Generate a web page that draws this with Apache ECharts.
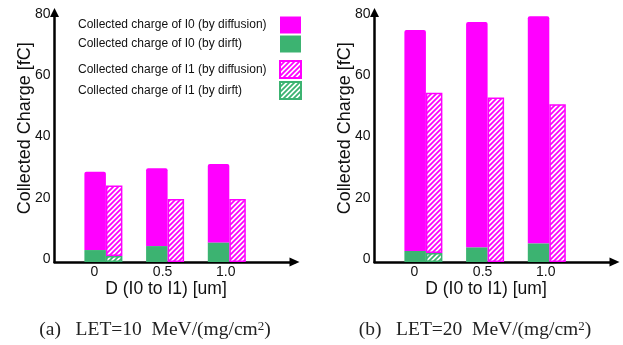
<!DOCTYPE html>
<html>
<head>
<meta charset="utf-8">
<script src="https://cdn.jsdelivr.net/npm/echarts@6/dist/echarts.min.js"></script>
<style>html,body{margin:0;padding:0;background:#fff}#c{width:623px;height:345px}</style>
</head>
<body>
<div id="c"></div>
<script>
// ---- data ----
const categories = ['0', '0.5', '1.0'];
const yTicks = [0, 20, 40, 60, 80];
const seriesNames = [
  'Collected charge of I0 (by diffusion)',
  'Collected charge of I0 (by dirft)',
  'Collected charge of I1 (by diffusion)',
  'Collected charge of I1 (by dirft)'
];
// (a) LET=10
const a_I0_drift = [3.9, 5.2, 6.4];
const a_I0_diff  = [25.6, 25.4, 25.6];
const a_I1_drift = [2.0, 0, 0];
const a_I1_diff  = [23.0, 20.6, 20.6];
// (b) LET=20
const b_I0_drift = [3.6, 4.8, 6.1];
const b_I0_diff  = [72.2, 73.6, 74.2];
const b_I1_drift = [2.9, 0, 0];
const b_I1_diff  = [52.4, 53.7, 51.5];
const captions = ['(a)', '(b)'];
const captionLET = ['10', '20'];

const MAG = '#ff00ff', GRN = '#3cb371';
const SANS = 'Liberation Sans', SERIF = 'Liberation Serif';
const TXT = '#111';

function hatch(color) {
  const s = 5;
  const c = document.createElement('canvas');
  c.width = s; c.height = s;
  const g = c.getContext('2d');
  g.fillStyle = '#fff'; g.fillRect(0, 0, s, s);
  g.strokeStyle = color; g.lineWidth = 1.8;
  g.beginPath();
  g.moveTo(0, s); g.lineTo(s, 0);
  g.moveTo(-2, 2); g.lineTo(2, -2);
  g.moveTo(s - 2, s + 2); g.lineTo(s + 2, s - 2);
  g.stroke();
  return { image: c, repeat: 'repeat' };
}
const vals = arr => arr.map(v => (v === 0 ? null : v));

const panels = [
  { left: 54.5, I0d: a_I0_drift, I0f: a_I0_diff, I1d: a_I1_drift, I1f: a_I1_diff },
  { left: 374.5, I0d: b_I0_drift, I0f: b_I0_diff, I1d: b_I1_drift, I1f: b_I1_diff }
];
const gridTop = 12.5, gridBottomY = 262, axisW = 240, bandW = 61.7, firstCenter = 48.9;
const yMax = 81.5;

const grids = [], xAxes = [], yAxes = [], series = [], titles = [];
const shiftRich = {
  s0: { padding: [0, 18, 0, 0], fontFamily: SANS, fontSize: 14, color: TXT },
  s1: { padding: [0, 5, 0, 0], fontFamily: SANS, fontSize: 14, color: TXT },
  s2: { padding: [0, 2, 0, 0], fontFamily: SANS, fontSize: 14, color: TXT }
};
const axisLineStyle = { color: '#000', width: 2.5 };
panels.forEach((p, k) => {
  const A = k * 2, B = k * 2 + 1;
  grids.push({ left: p.left, top: gridTop, width: axisW, height: gridBottomY - gridTop });
  grids.push({ left: p.left + firstCenter - bandW / 2, top: gridTop, width: bandW * categories.length, height: gridBottomY - gridTop });

  xAxes.push({
    gridIndex: A, type: 'value', min: 0, max: 1,
    axisLine: { onZero: false, lineStyle: axisLineStyle, symbol: ['none', 'triangle'], symbolSize: [9, 10] },
    axisTick: { show: false }, splitLine: { show: false }, axisLabel: { show: false },
    name: 'D (I0 to I1) [um]', nameLocation: 'middle', nameGap: 18,
    nameTextStyle: { fontFamily: SANS, fontSize: 17.5, color: TXT, padding: [0, 17, 0, 0] }
  });
  xAxes.push({
    gridIndex: B, type: 'category', data: categories, boundaryGap: true,
    axisLine: { show: false }, axisTick: { show: false }, splitLine: { show: false },
    axisLabel: {
      margin: 3, fontFamily: SANS, fontSize: 14, color: TXT,
      formatter: (v, i) => '{s' + i + '|' + v + '}', rich: shiftRich
    }
  });
  yAxes.push({
    gridIndex: A, type: 'value', min: 0, max: yMax,
    axisLine: { show: true, onZero: false, lineStyle: axisLineStyle, symbol: ['none', 'triangle'], symbolSize: [9, 9] },
    axisTick: { show: false }, splitLine: { show: false },
    axisLabel: {
      customValues: yTicks, margin: 4, fontFamily: SANS, fontSize: 14, color: TXT,
      formatter: '{v|{value}}',
      rich: { v: { padding: [0, 0, 6, 0], fontFamily: SANS, fontSize: 14, color: TXT } }
    },
    name: 'Collected Charge [fC]', nameLocation: 'middle', nameGap: 20, nameMoveOverlap: false,
    nameTextStyle: { fontFamily: SANS, fontSize: 18, color: TXT, padding: [0, 0, 0, 18] }
  });
  yAxes.push({ gridIndex: B, type: 'value', min: 0, max: yMax, show: false });

  const common = { type: 'bar', xAxisIndex: B, yAxisIndex: B, barGap: '0%' };
  const s0 = 'I0_' + k, s1 = 'I1_' + k;
  series.push(Object.assign({}, common, { name: seriesNames[1], stack: s0, barWidth: 21.5, data: vals(p.I0d), itemStyle: { color: GRN } }));
  series.push(Object.assign({}, common, { name: seriesNames[0], stack: s0, barWidth: 21.5, data: vals(p.I0f), itemStyle: { color: MAG, borderRadius: [2, 2, 0, 0] } }));
  series.push(Object.assign({}, common, { name: seriesNames[3], stack: s1, barWidth: 16.5, data: vals(p.I1d), itemStyle: { color: hatch(GRN), borderColor: GRN, borderWidth: 1.5 } }));
  series.push(Object.assign({}, common, { name: seriesNames[2], stack: s1, barWidth: 16.5, data: vals(p.I1f), itemStyle: { color: hatch(MAG), borderColor: MAG, borderWidth: 1.5 } }));

  titles.push({
    text: captions[k] + '   LET=' + captionLET[k] + '  MeV/(mg/cm{s|2})',
    left: p.left + 95.5, textAlign: 'center', top: 315,
    textStyle: {
      fontFamily: SERIF, fontSize: 19.5, fontWeight: 'normal', color: '#222',
      rich: { s: { fontFamily: SERIF, fontSize: 13, color: '#222', verticalAlign: 'top' } }
    }
  });
});

const legendCommon = {
  orient: 'vertical', left: 78, itemWidth: 21, itemHeight: 17, itemGap: 2, align: 'right',
  padding: 0, selectedMode: false, icon: 'rect',
  formatter: '{t|{name}}',
  textStyle: { fontFamily: SANS, fontSize: 12, color: TXT, rich: { t: { width: 197, align: 'left', fontFamily: SANS, fontSize: 12, color: TXT } } }
};
const legends = [
  Object.assign({}, legendCommon, { top: 16.5, data: [seriesNames[0], seriesNames[1]] }),
  Object.assign({}, legendCommon, { top: 60, data: [seriesNames[2], seriesNames[3]] })
];

const chart = echarts.init(document.getElementById('c'), null, { renderer: 'canvas' });
chart.setOption({
  animation: false,
  backgroundColor: '#fff',
  title: titles,
  legend: legends,
  grid: grids,
  xAxis: xAxes,
  yAxis: yAxes,
  series: series
});
</script>
</body>
</html>
